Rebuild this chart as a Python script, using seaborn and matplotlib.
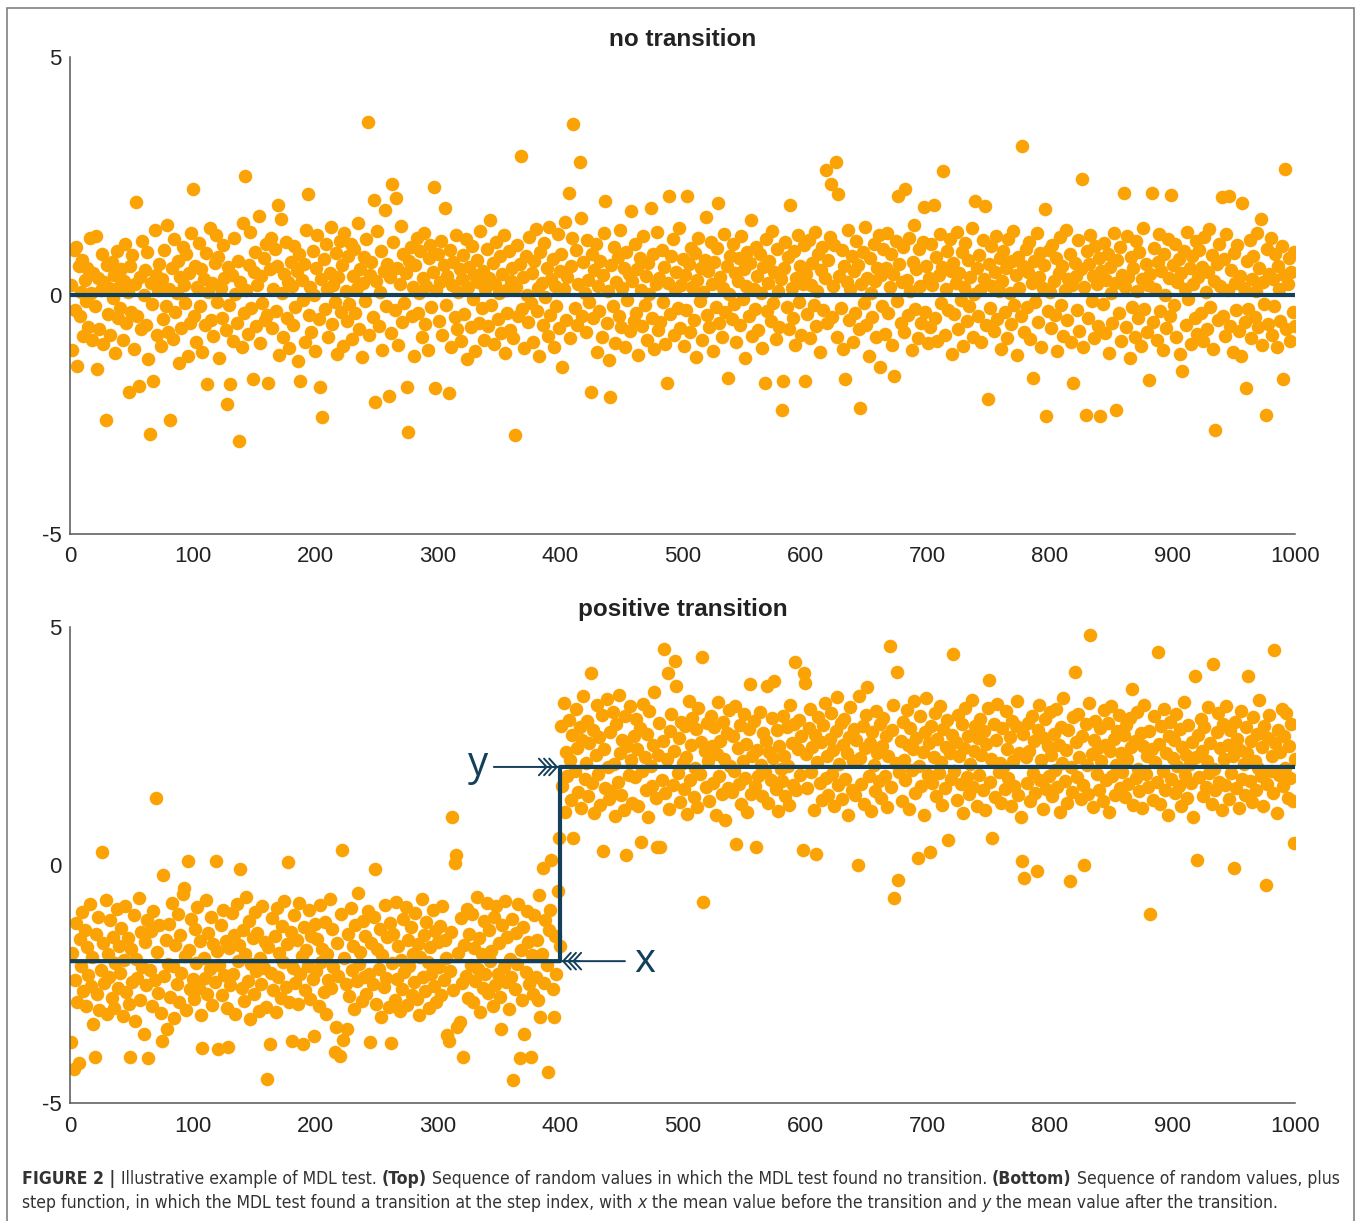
import os
import numpy as np
import pandas as pd
import matplotlib
matplotlib.use("Agg")
import matplotlib.pyplot as plt
import seaborn as sns
from matplotlib.patches import Rectangle
from matplotlib.font_manager import FontProperties, findfont

# ---- data (index 1..1000) ----
noise_top = [
    0.22, -1.15, 0.95, -0.31, 1.02, -1.48, 0.61, -0.42, 0.08, 0.74, -0.85, 0.33, -0.12, 0.58, -0.66, 1.21, 0.05, -0.94, 0.47, -0.23,
    1.24, -1.54, 0.36, -0.71, 0.12, 0.88, -1.02, 0.29, -2.62, 0.64, -0.38, 0.15, -0.82, 0.71, -0.05, 0.42, -1.21, 0.93, -0.47, 0.18,
    -0.26, 0.55, -0.93, 0.31, 1.08, -0.58, 0.07, -2.03, 0.62, -0.35, 0.84, -1.12, 0.24, 1.96, -0.44, -1.89, 0.39, -0.71, 1.15, 0.02,
    0.53, -0.61, 0.91, -1.33, -2.9, 0.27, -0.17, -1.79, 1.37, 0.44, -0.83, 0.11, 0.66, -1.05, 0.35, -0.49, 0.96, -0.22, 1.48, -0.76,
    0.14, -2.6, 0.58, -0.91, 1.19, -0.34, 0.05, 0.73, -1.41, 0.39, -0.68, 1.02, 0.21, -0.16, 0.87, -1.27, 0.48, -0.57, 1.31, 2.24,
    -0.43, 0.62, -0.97, 0.18, 1.11, -0.21, 0.55, -1.18, 0.34, -0.62, 0.9, -1.86, 0.07, 1.42, -0.51, 0.26, -0.84, 0.69, 1.27, -0.13,
    0.81, -1.31, 0.16, -0.47, 1.05, 0.37, -0.72, -2.28, 0.59, -0.19, -1.86, 0.44, -0.96, 1.2, 0.03, -0.58, 0.72, -3.06, 0.29, -1.08,
    1.52, -0.36, 2.5, 0.11, -0.81, 0.64, 1.33, -0.27, -1.76, 0.49, 0.92, -0.63, 0.23, 1.67, -1.0, 0.4, -0.15, 0.78, -0.52, 1.08,
    -0.4, -1.84, 0.55, 1.21, -0.69, 0.14, 0.98, -0.33, 0.61, 1.9, -1.24, 1.6, 0.06, -0.87, 0.45, 1.12, -0.47, 0.28, -1.1, 0.71,
    0.19, -0.62, 1.04, -0.25, 0.52, -1.37, 0.87, -1.8, 0.32, -0.09, 0.66, -0.98, 1.38, 2.13, -0.41, 0.17, -0.77, 0.94, 0.02, -1.16,
    0.58, 1.27, -0.5, -1.92, 0.35, -2.54, 0.76, -0.29, 1.09, 0.13, -0.86, 0.47, 1.43, -0.6, 0.21, -0.14, 0.89, -1.23, 0.38, 1.15,
    -0.35, 0.63, -1.05, 1.32, 0.09, -0.54, 0.82, -0.18, 1.07, -0.91, 0.41, 0.97, -0.37, 0.15, 1.52, -0.7, 0.56, -1.29, 0.26, 0.8,
    -0.12, 1.18, 3.63, -0.83, 0.44, 0.71, -0.46, 2.0, -2.24, 0.31, 1.36, -0.64, 0.08, 0.93, -1.14, 0.52, 1.8, -0.23, 0.67, -2.1,
    0.39, -0.78, 2.34, 1.12, -0.31, 2.04, 0.58, -1.03, 0.24, 1.45, -0.55, 0.86, -0.15, 0.47, -1.92, -2.87, 0.72, 1.01, -0.42, 0.18,
    -1.27, 0.64, 1.21, -0.37, 0.05, 0.93, -0.88, 0.36, 1.3, -0.6, 0.19, -1.15, 0.78, 1.06, -0.24, 0.5, 2.27, -1.94, 0.12, 0.87,
    -0.53, 0.29, 1.14, -0.82, 0.63, 1.83, -0.19, 0.41, -2.05, 0.96, -1.08, 0.23, 0.71, -0.45, 1.26, -0.71, 0.07, 0.55, -0.95, 0.34,
    0.84, -0.39, 1.19, -1.33, 0.17, 0.6, -0.66, 1.04, -0.08, 0.43, -1.17, 0.75, 0.28, -0.57, 1.35, -0.26, 0.52, -0.93, 0.14, 0.98,
    -0.64, 0.37, 1.58, -0.2, 0.69, -1.02, 0.24, 1.12, -0.49, 0.06, 0.83, -0.78, 0.45, 1.27, -1.21, 0.11, -0.36, 0.94, -0.72, 0.3,
    0.57, -0.89, -2.92, 0.18, 1.06, -0.43, 0.65, 2.92, -0.28, 0.39, -1.11, 0.82, 0.02, -0.55, 1.23, -0.15, 0.47, -0.97, 0.73, 1.39,
    -0.32, 0.16, -1.26, 0.91, 0.27, -0.62, 1.1, -0.04, 0.58, -0.84, 1.44, -0.41, 0.35, 0.77, -1.07, 0.2, -0.23, 1.29, -0.68, 0.51,
    0.86, -1.49, 0.13, 1.54, -0.52, 0.38, 2.14, -0.9, 0.62, 1.21, 3.6, -0.27, 0.96, -0.61, 0.24, 2.8, 1.63, -0.44, 0.7, 0.05,
    -0.76, 1.16, 0.33, -0.14, -2.03, 0.87, -0.48, 0.54, 1.07, -1.19, 0.19, -0.33, 0.73, -0.86, 0.42, 1.31, 1.98, -0.58, 0.09, -1.35,
    -2.12, 0.64, -0.21, 1.02, -0.99, 0.28, 0.81, -0.42, 1.38, -0.67, 0.15, 0.57, -1.08, 0.92, -0.09, 0.46, -0.74, 1.77, 0.31, -0.53,
    1.09, -0.36, 0.55, -1.24, 0.78, 0.12, -0.63, 1.25, -0.2, 0.41, -0.93, 0.69, 0.03, 1.84, -0.47, 0.87, -1.12, 0.24, 1.33, -0.72,
    0.36, -0.55, 0.95, -0.13, 0.6, -1.01, -1.84, 0.27, 2.08, -0.39, 0.83, 1.18, -0.82, 0.14, 0.5, -0.26, 1.41, -0.69, 0.21, 0.76,
    -1.06, 0.43, -0.3, 2.08, 0.66, -0.77, 1.0, 0.17, -0.51, 0.89, -1.28, 0.32, 1.21, -0.12, 0.58, -0.94, 0.08, 0.74, 1.65, -0.4,
    0.52, -0.66, 1.13, 0.25, -1.17, 0.71, -0.24, 0.99, 1.94, -0.57, 0.38, -0.86, 0.16, 1.28, -0.35, 0.61, -1.72, 0.04, 0.83, -0.49,
    1.07, -0.18, 0.47, -0.98, 0.3, 0.79, -0.61, 1.24, -0.07, 0.56, -1.31, 0.2, 0.92, -0.42, 0.68, 1.58, -0.84, 0.13, -0.28, 1.02,
    0.41, -0.73, 0.86, 0.06, -1.1, 0.6, -1.83, 1.19, -0.33, 0.27, 0.73, -0.54, 1.36, -0.16, 0.49, -0.92, 0.97, 0.1, -0.66, 0.34,
    -2.41, -1.8, 0.58, 1.12, -0.24, 0.81, -0.71, 1.9, 0.15, -0.48, 0.94, -1.04, 0.37, 1.27, -0.14, 0.62, -0.83, 0.25, 1.05, -1.8,
    0.46, -0.39, 1.17, -0.9, 0.22, 0.68, -0.2, 1.33, -0.64, 0.09, 0.87, -1.19, 0.53, 1.01, -0.31, 0.36, 2.64, -0.58, 0.74, 1.22,
    2.34, -0.45, 0.19, 1.06, 2.8, -0.87, 2.12, 0.4, -0.27, 0.95, -1.12, 0.61, -1.76, 0.29, 1.38, -0.52, 0.14, 0.82, -0.98, 0.51,
    -0.36, 1.15, 0.63, -0.7, -2.35, 0.24, 0.92, -0.16, 1.43, -0.62, 0.37, -1.27, 0.78, 0.05, -0.45, 1.09, 0.31, -0.88, 0.57, 1.26,
    -1.5, 0.42, -0.22, 0.97, -0.81, 0.58, 1.31, -0.37, 0.17, 0.86, -1.03, 0.45, -1.69, 1.14, -0.12, 2.08, 0.66, -0.57, 0.28, 1.02,
    -0.76, 2.23, 0.33, -0.41, 1.21, 0.09, -1.15, 0.71, 1.48, -0.29, 0.55, -0.9, 0.98, 0.19, -0.58, 1.12, 1.85, -0.34, 0.62, -1.0,
    0.37, -0.65, 1.07, 0.23, 1.9, -0.47, 0.8, -0.95, 0.44, 1.29, -0.16, 0.6, 2.6, -0.82, 0.14, 0.93, -0.3, 1.18, 0.51, -1.22,
    0.69, -0.38, 0.26, 1.34, -0.71, 0.47, -0.09, 0.91, -1.06, 0.18, 1.1, -0.53, 0.75, -0.22, 0.39, 1.41, -0.86, 0.03, 1.99, 0.58,
    -0.44, 0.85, 0.12, -0.98, 1.16, 0.34, 1.87, -0.61, -2.17, 0.66, -0.27, 1.03, 0.2, -0.74, 0.49, 1.25, -0.5, 0.09, 0.78, -1.13,
    0.31, 0.94, -0.35, 0.57, -0.89, 1.19, 0.06, -0.6, 0.72, 1.36, -0.19, 0.43, -1.24, 0.81, 0.15, -0.43, 3.13, 0.62, -0.77, 0.97,
    -0.25, 0.5, 1.12, -0.92, 0.27, -1.73, 0.73, -0.13, 1.3, -0.56, 0.38, 0.89, -1.08, 0.16, 0.64, 1.82, -2.52, -0.33, 0.96, 0.08,
    -0.68, 1.05, 0.3, -0.41, 0.79, -1.16, 0.48, 1.22, -0.2, 0.61, -0.84, 0.11, 1.38, -0.52, 0.35, 0.87, -0.97, 0.22, -1.83, 0.69,
    0.4, -0.3, 1.16, -0.75, 0.55, 2.45, -1.07, 0.18, -2.5, 0.93, -0.47, 0.66, 1.27, -0.12, 0.41, -0.9, 1.04, 0.24, -0.63, 0.78,
    -2.52, 0.52, -0.18, 1.11, -0.79, 0.33, 0.86, -1.2, 0.6, 0.05, -0.58, 1.32, 0.27, -2.39, 0.74, -0.36, 1.01, -0.95, 0.44, 2.14,
    0.17, -0.66, 1.24, 0.39, -1.31, 0.8, -0.24, 0.57, -0.87, 1.14, 0.1, -0.48, 0.92, -1.05, 0.35, 1.41, -0.29, 0.65, -0.76, 0.21,
    -1.78, 0.46, 2.15, -0.55, 0.99, 0.14, -0.94, 0.71, 1.28, -0.33, 0.52, -1.14, 0.87, 0.02, -0.69, 1.19, 0.36, -0.42, 2.1, 0.63,
    -0.2, 1.07, -0.86, 0.29, 0.76, -1.22, 0.48, -1.59, 0.93, 0.13, -0.61, 1.34, -0.07, 0.58, -1.01, 0.82, 0.25, -0.47, 1.15, -0.8,
    0.38, 0.95, -0.37, 0.6, -0.96, 1.23, 0.07, -0.7, 0.49, 1.4, -0.25, 0.84, -1.13, 0.31, -2.82, 0.67, -0.51, 1.09, 0.19, 2.07,
    -0.43, 0.77, -0.85, 1.28, 0.12, 2.09, -0.64, 0.54, -1.18, 0.9, 0.26, -0.31, 1.05, -0.74, 0.41, -1.27, 1.93, 0.16, -0.56, -1.93,
    0.73, -0.29, 1.17, -0.9, 0.35, 0.82, -0.46, 0.09, 1.32, -0.67, 0.57, 1.6, -1.04, 0.28, -0.18, -2.51, 0.97, -0.6, 0.45, 1.21,
    -0.82, 0.34, -0.22, 0.88, -1.09, 0.61, 0.14, -0.53, 1.03, -1.75, 0.42, 2.66, -0.71, 0.24, 0.79, -0.96, 0.5, -0.35, 0.92, -0.63,
]

values_bottom = [
    -3.72, -1.85, -4.29, -2.42, -1.21, -2.87, -4.17, -1.56, -2.13, -0.98, -2.64, -1.37, -2.96, -1.72, -2.31, -0.81, -2.55, -1.94, -3.33, -4.03,
    -1.46, -2.71, -1.09, -3.05, -2.2, 0.28, -1.63, -2.48, -0.74, -3.12, -1.88, -2.36, -1.15, -2.79, -1.52, -3.01, -2.05, -0.93, -2.58, -1.71,
    -2.27, -1.32, -3.18, -2.0, -0.87, -2.66, -1.54, -2.92, -4.03, -1.77, -2.45, -1.05, -3.27, -1.98, -2.38, -0.69, -2.83, -1.41, -2.14, -3.55,
    -1.62, -2.53, -1.16, -4.06, -2.21, -1.39, -2.96, -0.96, -2.42, 1.4, -1.83, -2.68, -1.27, -3.1, -3.7, -0.21, -2.34, -1.57, -3.44, -2.09,
    -1.24, -2.77, -0.79, -2.13, -3.21, -1.68, -2.49, -1.02, -2.88, -1.47, -2.26, -0.61, -0.48, -1.91, -3.04, 0.09, -1.79, -2.61, -1.14, -2.4,
    -2.82, -1.34, -2.05, -0.88, -2.58, -1.6, -3.16, -3.84, -1.96, -2.37, -0.73, -2.71, -1.43, -2.19, -1.1, -2.94, -1.66, -2.46, 0.08, -1.81,
    -3.87, -2.11, -1.27, -2.74, -0.94, -2.32, -1.59, -3.0, -3.82, -1.74, -2.52, -1.01, -2.28, -1.48, -3.13, -0.82, -2.02, -1.69, -0.09, -2.59,
    -1.36, -2.85, -1.86, -0.67, -2.43, -1.18, -3.24, -2.07, -1.53, -2.7, -0.99, -2.23, -1.42, -3.06, -1.95, -2.5, -0.86, -2.17, -1.61, -2.98,
    -4.5, -1.73, -3.76, -2.26, -1.12, -2.62, -1.5, -3.09, -0.91, -2.35, -1.84, -2.79, -1.28, -2.03, -0.76, -2.56, -1.67, 0.06, -2.88, -1.4,
    -3.7, -2.16, -1.06, -2.47, -1.58, -2.93, -0.8, -2.3, -1.92, -3.75, -1.31, -2.63, -1.78, -2.12, -0.95, -2.81, -1.49, -2.39, -3.6, -1.23,
    -2.22, -1.55, -2.97, -0.84, -2.04, -1.76, -2.67, -1.19, -3.14, -1.87, -2.41, -0.72, -2.58, -1.35, -2.14, -3.92, -3.4, -1.64, -2.33, -4.01,
    -1.03, 0.31, -3.68, -1.95, -2.49, -3.45, -1.44, -2.76, -0.9, -2.2, -1.71, -3.02, -1.26, -2.44, -0.58, -2.09, -1.82, -2.86, -1.17, -2.35,
    -1.5, -2.72, -0.97, -2.28, -3.72, -1.63, -2.5, -1.09, -0.09, -2.91, -1.77, -2.18, -1.34, -3.19, -1.89, -2.57, -0.83, -2.37, -1.52, -2.99,
    -1.21, -3.74, -2.06, -1.45, -2.83, -0.77, -2.4, -1.7, -3.07, -1.99, -2.6, -1.13, -2.25, -0.89, -2.95, -1.58, -2.12, -1.31, -2.73, -1.86,
    -2.46, -1.0, -2.81, -1.66, -3.15, -1.93, -0.71, -2.36, -1.48, -2.64, -1.19, -2.03, -3.01, -1.73, -2.29, -0.95, -2.55, -1.38, -2.88, -1.61,
    -2.15, -1.28, -2.74, -0.86, -2.41, -1.57, -1.96, -3.58, -3.7, -2.22, -1.41, 1.01, -2.62, 0.05, 0.2, -3.4, -1.84, -3.3, -1.12, -2.48,
    -4.04, -1.69, -2.33, -0.93, -2.79, -1.46, -2.1, -1.02, -2.87, -1.75, -2.43, -0.68, -2.19, -1.54, -3.08, -1.88, -2.58, -1.17, -2.28, -0.8,
    -2.69, -1.37, -2.01, -1.81, -2.96, -1.1, -2.52, -0.87, -2.3, -1.63, -2.78, -3.45, -1.26, -2.14, -0.75, -2.45, -1.52, -3.03, -1.97, -2.35,
    -1.14, -4.52, -2.6, -1.43, -2.07, -0.81, -4.06, -1.78, -2.84, -1.3, -3.55, -2.25, -0.97, -1.61, -2.49, -4.03, -1.9, -2.71, -1.05, -2.36,
    -1.58, -2.83, -0.64, -3.2, -1.87, -0.07, -2.47, -1.15, -2.1, -4.35, -1.36, -0.95, 0.1, -2.6, -3.2, -1.49, -2.29, -0.55, 0.56, -1.7,
    2.93, 1.65, 3.41, 1.12, 2.38, 1.87, 3.05, 2.21, 1.36, 2.74, 0.56, 1.98, 3.27, 2.46, 1.53, 2.89, 1.2, 2.62, 3.55, 1.81,
    2.15, 3.02, 1.44, 2.57, 4.03, 1.73, 2.84, 1.09, 2.31, 3.36, 1.92, 2.68, 1.27, 3.15, 0.29, 2.43, 1.61, 3.48, 2.05, 1.38,
    2.79, 1.55, 3.21, 2.12, 1.03, 2.96, 1.74, 3.58, 2.36, 1.47, 2.63, 1.16, 3.12, 0.22, 2.5, 1.89, 3.33, 2.2, 1.31, 2.71,
    1.84, 3.06, 2.44, 1.25, 2.87, 0.49, 1.97, 3.39, 2.26, 1.58, 2.75, 1.01, 3.24, 2.09, 1.67, 2.53, 3.63, 1.4, 0.38, 2.32,
    2.98, 0.38, 1.79, 2.6, 4.53, 1.52, 2.23, 4.03, 1.18, 2.81, 3.17, 1.69, 2.39, 4.29, 3.77, 1.94, 2.66, 1.33, 3.0, 2.14,
    1.6, 2.92, 2.27, 1.08, 3.45, 1.78, 2.52, 3.09, 1.42, 2.03, 2.85, 1.21, 3.3, 1.91, 2.58, 4.36, -0.77, 2.4, 1.63, 2.99,
    2.18, 1.35, 3.14, 2.5, 1.73, 2.9, 1.06, 2.34, 3.42, 1.86, 2.61, 1.49, 3.01, 2.22, 0.94, 2.77, 1.62, 3.26, 2.08, 1.54,
    2.71, 1.97, 3.35, 0.44, 2.46, 1.71, 2.94, 1.28, 2.19, 3.18, 1.83, 2.55, 1.12, 2.86, 3.8, 1.5, 2.29, 3.03, 1.67, 0.37,
    2.42, 1.88, 3.22, 2.11, 1.45, 2.78, 1.95, 2.6, 3.77, 1.3, 2.37, 1.79, 3.09, 2.25, 3.87, 1.59, 2.83, 1.14, 2.51, 2.02,
    1.76, 3.13, 2.3, 1.44, 2.89, 2.07, 1.26, 3.37, 2.56, 1.69, 2.97, 4.27, 1.57, 2.44, 3.05, 1.9, 2.7, 0.31, 4.03, 3.83,
    2.33, 1.61, 2.88, 3.28, 1.96, 2.47, 1.15, 2.74, 0.23, 2.16, 3.11, 1.72, 2.59, 1.37, 2.95, 3.4, 1.83, 2.28, 1.48, 2.64,
    3.2, 1.92, 2.41, 1.23, 2.82, 3.53, 1.68, 2.13, 2.98, 1.39, 2.53, 3.06, 1.8, 2.35, 1.04, 2.69, 3.31, 1.57, 2.19, 2.86,
    1.47, 2.62, 0.01, 3.56, 2.24, 1.7, 2.91, 1.29, 2.45, 3.15, 3.73, 1.88, 2.57, 1.13, 2.8, 2.1, 1.55, 3.24, 2.36, 1.76,
    2.97, 1.41, 2.5, 3.09, 1.86, 2.72, 1.21, 2.3, 4.6, 1.64, 2.84, 3.37, -0.69, 2.15, 4.06, -0.31, 1.95, 2.61, 1.34, 3.01,
    2.2, 1.78, 3.26, 2.52, 1.17, 2.88, 1.99, 2.43, 3.44, 1.52, 2.67, 0.14, 2.09, 3.12, 1.66, 2.38, 1.04, 2.79, 3.5, 1.89,
    2.56, 0.27, 2.93, 1.73, 2.26, 3.19, 1.45, 2.64, 1.93, 3.34, 2.17, 1.27, 2.85, 1.61, 2.48, 3.05, 0.53, 2.35, 1.8, 2.74,
    4.43, 1.98, 2.59, 1.36, 3.16, 2.29, 1.7, 2.96, 1.09, 2.46, 3.29, 1.85, 2.71, 1.5, 2.12, 3.47, 1.63, 2.4, 2.92, 1.24,
    2.66, 1.9, 3.07, 2.32, 1.58, 2.81, 1.16, 2.54, 3.3, 3.88, 1.74, 2.23, 0.57, 2.97, 1.43, 2.62, 3.38, 1.95, 2.14, 1.31,
    2.87, 2.05, 1.59, 3.23, 2.44, 1.82, 2.69, 1.25, 3.02, 2.18, 1.67, 2.93, 3.45, 1.48, 2.36, 1.01, 0.09, 2.75, -0.28, 2.27,
    1.72, 2.98, 2.4, 1.35, 3.14, 1.94, 2.61, 1.52, -0.12, 2.83, 3.36, 1.79, 2.2, 1.18, 2.67, 3.06, 1.6, 2.49, 1.87, 3.21,
    2.31, 1.44, 2.76, 1.99, 3.27, 1.63, 2.53, 1.11, 2.9, 2.15, 3.5, 1.76, 2.42, 1.3, 2.84, -0.33, 2.06, 1.54, 3.11, 4.05,
    2.58, 1.85, 3.18, 2.27, 1.38, 2.72, 1.69, -0.01, 2.96, 2.11, 1.5, 3.4, 4.83, 2.34, 1.22, 2.63, 3.03, 1.92, 2.45, 1.57,
    2.87, 2.19, 1.34, 3.25, 2.52, 1.78, 2.99, 1.12, 2.4, 3.33, 1.88, 2.64, 1.47, 2.1, 2.82, 3.15, 1.61, 2.36, 1.96, 2.73,
    1.42, 2.94, 2.23, 1.7, 3.08, 2.47, 3.7, 1.26, 2.6, 1.83, 3.22, 2.01, 1.55, 2.77, 1.19, 2.5, 3.36, 1.91, 2.28, 1.64,
    2.81, -1.03, 2.43, 1.37, 3.12, 2.17, 1.74, 4.48, 2.55, 1.29, 2.91, 1.97, 3.28, 1.58, 2.35, 1.05, 2.7, 3.01, 1.81, 2.24,
    2.63, 1.51, 3.17, 2.08, 1.66, 2.86, 1.23, 2.47, 3.43, 1.89, 2.31, 1.4, 2.95, 2.13, 1.72, 2.58, 1.0, 3.98, 2.26, 0.1,
    2.74, 1.84, 3.06, 2.39, 1.46, 2.9, 1.63, 2.18, 3.31, 1.93, 2.56, 1.28, 4.22, 2.02, 1.57, 2.79, 3.19, 1.75, 2.46, 1.15,
    2.97, 2.22, 1.69, 3.35, 2.53, 1.39, 2.84, 1.94, 2.3, -0.07, 3.0, 1.62, 2.65, 1.2, 2.41, 3.24, 1.8, 2.12, 1.48, 2.89,
    2.35, 3.98, 1.77, 2.6, 1.33, 3.1, 2.19, 1.58, 2.76, 2.04, 3.46, 1.86, 2.48, 1.25, 2.93, -0.42, 1.71, 2.67, 3.15, 1.97,
    2.29, 1.52, 4.52, 2.56, 1.09, 2.83, 1.9, 2.38, 3.27, 1.66, 2.71, 2.03, 3.2, 1.41, 2.49, 1.83, 2.96, 1.35, 0.47, 2.22,
]

step_index = 400
mean_before = -2.02
mean_after = 2.06
top_level = 0.0

x_ticks = list(range(0, 1001, 100))
y_ticks = [-5, 0, 5]
panel_titles = ["no transition", "positive transition"]

ORANGE = "#FBA304"
NAVY = "#123F59"
AXIS_GREY = "#555555"
TEXT_DARK = "#222222"

sns.set_style("white")
plt.rcParams["font.family"] = ["Liberation Sans", "DejaVu Sans"]
plt.rcParams["axes.unicode_minus"] = False

W, H = 1358, 1221
fig = plt.figure(figsize=(W / 100, H / 100), dpi=100)
ax_top = fig.add_axes([70 / W, 1 - 534 / H, 1225 / W, 477 / H])
ax_bot = fig.add_axes([70 / W, 1 - 1103 / H, 1225 / W, 476 / H])


def style_axis(ax, title):
    ax.set_xlim(0, 1000)
    ax.set_ylim(-5, 5)
    ax.set_xticks(x_ticks)
    ax.set_yticks(y_ticks)
    ax.tick_params(direction="in", length=7, width=1.0, color=AXIS_GREY,
                   labelsize=16, labelcolor=TEXT_DARK)
    ax.tick_params(axis="x", pad=9)
    ax.tick_params(axis="y", pad=6)
    for side in ["top", "right"]:
        ax.spines[side].set_visible(False)
    for side in ["left", "bottom"]:
        ax.spines[side].set_color(AXIS_GREY)
        ax.spines[side].set_linewidth(1.1)
    ax.set_title(title, fontsize=17.5, fontweight="bold", color=TEXT_DARK, pad=8)
    ax.set_xlabel("")
    ax.set_ylabel("")


# top panel: noise around zero, flat mean line
idx_top = np.arange(1, len(noise_top) + 1)
df_top = pd.DataFrame({"index": idx_top, "value": noise_top})
sns.scatterplot(data=df_top, x="index", y="value", ax=ax_top, color=ORANGE,
                s=95, linewidth=0, legend=False, zorder=2)
line_x = np.arange(0, 1001)
sns.lineplot(x=line_x, y=np.full(line_x.shape, top_level), ax=ax_top,
             color=NAVY, linewidth=3, zorder=3)
style_axis(ax_top, panel_titles[0])

# bottom panel: noise plus step function
idx_bot = np.arange(1, len(values_bottom) + 1)
df_bot = pd.DataFrame({"index": idx_bot, "value": values_bottom})
sns.scatterplot(data=df_bot, x="index", y="value", ax=ax_bot, color=ORANGE,
                s=95, linewidth=0, legend=False, zorder=2)
step_y = np.where(line_x < step_index, mean_before, mean_after)
sns.lineplot(x=line_x, y=step_y, ax=ax_bot, color=NAVY, linewidth=3,
             drawstyle="steps-post", zorder=3)
style_axis(ax_bot, panel_titles[1])


def chevron_arrow(ax, x_tip, x_tail, level, direction):
    # shaft
    ax.annotate("", xy=(x_tip, level), xytext=(x_tail, level),
                arrowprops=dict(arrowstyle="-", color=NAVY, lw=1.4,
                                shrinkA=0, shrinkB=0), zorder=4)
    # triple chevron head
    for k in range(3):
        tip = x_tip - direction * k * 4.2
        ax.annotate("", xy=(tip, level), xytext=(tip - direction * 6, level),
                    arrowprops=dict(arrowstyle="->,head_length=0.55,head_width=0.6",
                                    color=NAVY, lw=1.4, shrinkA=0, shrinkB=0),
                    zorder=4)


chevron_arrow(ax_bot, step_index - 1.5, 346, mean_after, +1)
chevron_arrow(ax_bot, step_index + 1.5, 453, mean_before, -1)
ax_bot.text(333, mean_after + 0.05, "y", fontsize=29, color=NAVY, ha="center",
            va="center", family=["Open Sans", "DejaVu Sans"])
ax_bot.text(469, mean_before - 0.02, "x", fontsize=29, color=NAVY, ha="center",
            va="center", family=["Open Sans", "DejaVu Sans"])

# frame around the figure panel
fig.add_artist(Rectangle((7 / W, -0.05), 1347 / W, 1.05 - 8 / H,
                         transform=fig.transFigure, fill=False,
                         edgecolor="#808080", linewidth=1.2))

# caption with mixed font styles, in a narrow face when one is installed
renderer = fig.canvas.get_renderer()


def pick_caption_font():
    candidates = [("Liberation Sans Narrow", "normal"), ("DejaVu Sans", "condensed"),
                  ("Roboto Condensed", "normal"), ("Noto Sans", "condensed"),
                  ("Open Sans", "condensed")]
    for fam, stretch in candidates:
        try:
            path = findfont(FontProperties(family=fam, stretch=stretch),
                            fallback_to_default=False)
        except Exception:
            continue
        name = os.path.basename(path).lower()
        if "narrow" in name or "cond" in name:
            return fam, stretch
    return "Liberation Sans", "normal"


cap_family, cap_stretch = pick_caption_font()

line1 = [
    ("FIGURE 2 | ", "bold", "normal"),
    ("Illustrative example of MDL test. ", "normal", "normal"),
    ("(Top)", "bold", "normal"),
    (" Sequence of random values in which the MDL test found no transition. ", "normal", "normal"),
    ("(Bottom)", "bold", "normal"),
    (" Sequence of random values, plus", "normal", "normal"),
]
line2 = [
    ("step function, in which the MDL test found a transition at the step index, with ", "normal", "normal"),
    ("x", "normal", "italic"),
    (" the mean value before the transition and ", "normal", "normal"),
    ("y", "normal", "italic"),
    (" the mean value after the transition.", "normal", "normal"),
]


def cap_prop(size, weight, style):
    return FontProperties(family=cap_family, stretch=cap_stretch, size=size,
                          weight=weight, style=style)


def text_width(s, prop):
    w1, _, _ = renderer.get_text_width_height_descent(s + "|", prop, ismath=False)
    w2, _, _ = renderer.get_text_width_height_descent("|", prop, ismath=False)
    return w1 - w2


def line_width(parts, size):
    return sum(text_width(s, cap_prop(size, wt, st)) for s, wt, st in parts)


# fit the first caption line to the reference span (x = 22 .. 1341 px)
cap_size = 13.5 * 1319 / line_width(line1, 13.5)
cap_size = min(cap_size, 14.0)


def caption_line(x_px, y_px, parts):
    x = x_px
    for s, weight, style in parts:
        prop = cap_prop(cap_size, weight, style)
        fig.text(x / W, 1 - y_px / H, s, fontproperties=prop, color="#333333",
                 ha="left", va="center")
        x += text_width(s, prop)


caption_line(22, 1179, line1)
caption_line(22, 1203, line2)

fig.savefig("out.png", dpi=100)
